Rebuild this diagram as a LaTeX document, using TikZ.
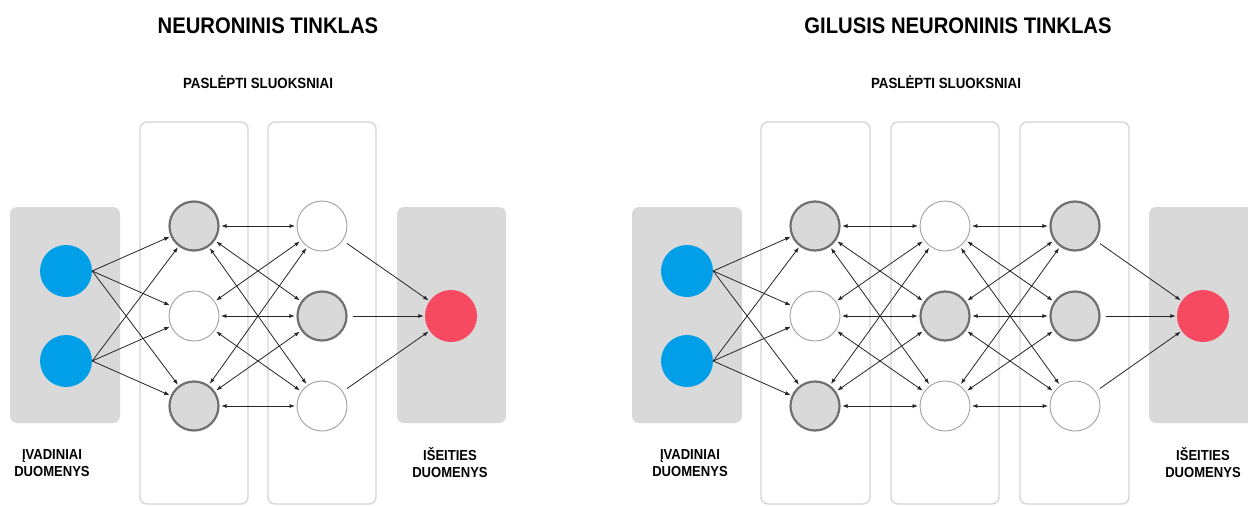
\documentclass[tikz,border=0pt]{standalone}
\usepackage{fontspec}
\setmainfont{Liberation Sans}[FakeStretch=0.9]
\usetikzlibrary{arrows.meta}
\definecolor{boxgray}{HTML}{D9D9D9}
\definecolor{framegray}{HTML}{D4D4D4}
\definecolor{ringdark}{HTML}{707070}
\definecolor{ringlight}{HTML}{A0A0A0}
\definecolor{inblue}{HTML}{009FE8}
\definecolor{outred}{HTML}{F64A60}
\definecolor{linegray}{HTML}{262626}
\begin{document}
\begin{tikzpicture}[x=1pt,y=-1pt,
 neurongray/.style={circle,minimum size=49pt,inner sep=0pt,fill=boxgray,draw=ringdark,line width=2.2pt},
 neuronwhite/.style={circle,minimum size=50pt,inner sep=0pt,fill=white,draw=ringlight,line width=0.9pt},
 inneuron/.style={circle,minimum size=52pt,inner sep=0pt,fill=inblue},
 outneuron/.style={circle,minimum size=52pt,inner sep=0pt,fill=outred},
 iobox/.style={fill=boxgray,rounded corners=7pt},
 layerbox/.style={draw=framegray,line width=1.3pt,rounded corners=7pt},
 fwd/.style={draw=linegray,line width=0.8pt,-{Latex[length=5.5pt,width=4pt]},shorten >=1pt},
 biarrow/.style={draw=linegray,line width=0.8pt,{Latex[length=5.5pt,width=4pt]}-{Latex[length=5.5pt,width=4pt]},shorten >=1.5pt,shorten <=1.5pt},
 headline/.style={font=\bfseries\fontsize{22.5}{27}\selectfont,anchor=base},
 subheadline/.style={font=\bfseries\fontsize{14.8}{18}\selectfont,anchor=base},
 iolabel/.style={font=\bfseries\fontsize{14.5}{17}\selectfont,align=center}
]
\clip (0,0) rectangle (1248,506);
\fill[white] (0,0) rectangle (1248,506);

% ---------- left network ----------
\node[headline] (ltitle) at (268,33) {NEURONINIS TINKLAS};
\node[subheadline] (lsub) at (258,88) {PASLĖPTI SLUOKSNIAI};
\fill[iobox] (10,207) rectangle (120,423);
\fill[iobox] (397,207) rectangle (506,423);
\draw[layerbox] (140,122) rectangle (248,504);
\draw[layerbox] (268,122) rectangle (376,504);

\node[inneuron] (li1) at (66,271) {};
\node[inneuron] (li2) at (66,361) {};
\node[neurongray]  (lh11) at (194,226) {};
\node[neuronwhite] (lh12) at (194,316) {};
\node[neurongray]  (lh13) at (194,406) {};
\node[neuronwhite] (lh21) at (322,226) {};
\node[neurongray]  (lh22) at (322,316) {};
\node[neuronwhite] (lh23) at (322,406) {};
\node[outneuron] (lo) at (451,316) {};

\foreach \a in {1,2} \foreach \b in {1,2,3} \draw[fwd] (li\a.east) -- (lh1\b);
\foreach \a in {1,2,3} \foreach \b in {1,2,3} \draw[biarrow] (lh1\a) -- (lh2\b);
\foreach \a in {1,2,3} \draw[fwd,shorten <=5pt] (lh2\a) -- (lo);

\node[iolabel] (lin) at (52,463) {ĮVADINIAI\\DUOMENYS};
\node[iolabel] (lout) at (450,463) {IŠEITIES\\DUOMENYS};

% ---------- right network ----------
\node[headline] (rtitle) at (958,33) {GILUSIS NEURONINIS TINKLAS};
\node[subheadline] (rsub) at (946,88) {PASLĖPTI SLUOKSNIAI};
\fill[iobox] (632,207) rectangle (742,423);
\fill[iobox] (1149,207) rectangle (1262,423);
\draw[layerbox] (761,122) rectangle (870,504);
\draw[layerbox] (891,122) rectangle (999,504);
\draw[layerbox] (1020,122) rectangle (1129,504);

\node[inneuron] (ri1) at (687,271) {};
\node[inneuron] (ri2) at (687,361) {};
\node[neurongray]  (rh11) at (815,226) {};
\node[neuronwhite] (rh12) at (815,316) {};
\node[neurongray]  (rh13) at (815,406) {};
\node[neuronwhite] (rh21) at (945,226) {};
\node[neurongray]  (rh22) at (945,316) {};
\node[neuronwhite] (rh23) at (945,406) {};
\node[neurongray]  (rh31) at (1075,226) {};
\node[neurongray]  (rh32) at (1075,316) {};
\node[neuronwhite] (rh33) at (1075,406) {};
\node[outneuron] (ro) at (1203,316) {};

\foreach \a in {1,2} \foreach \b in {1,2,3} \draw[fwd] (ri\a.east) -- (rh1\b);
\foreach \a in {1,2,3} \foreach \b in {1,2,3} \draw[biarrow] (rh1\a) -- (rh2\b);
\foreach \a in {1,2,3} \foreach \b in {1,2,3} \draw[biarrow] (rh2\a) -- (rh3\b);
\foreach \a in {1,2,3} \draw[fwd,shorten <=5pt] (rh3\a) -- (ro);

\node[iolabel] (rin) at (690,463) {ĮVADINIAI\\DUOMENYS};
\node[iolabel] (rout) at (1203,463) {IŠEITIES\\DUOMENYS};
\end{tikzpicture}
\end{document}
